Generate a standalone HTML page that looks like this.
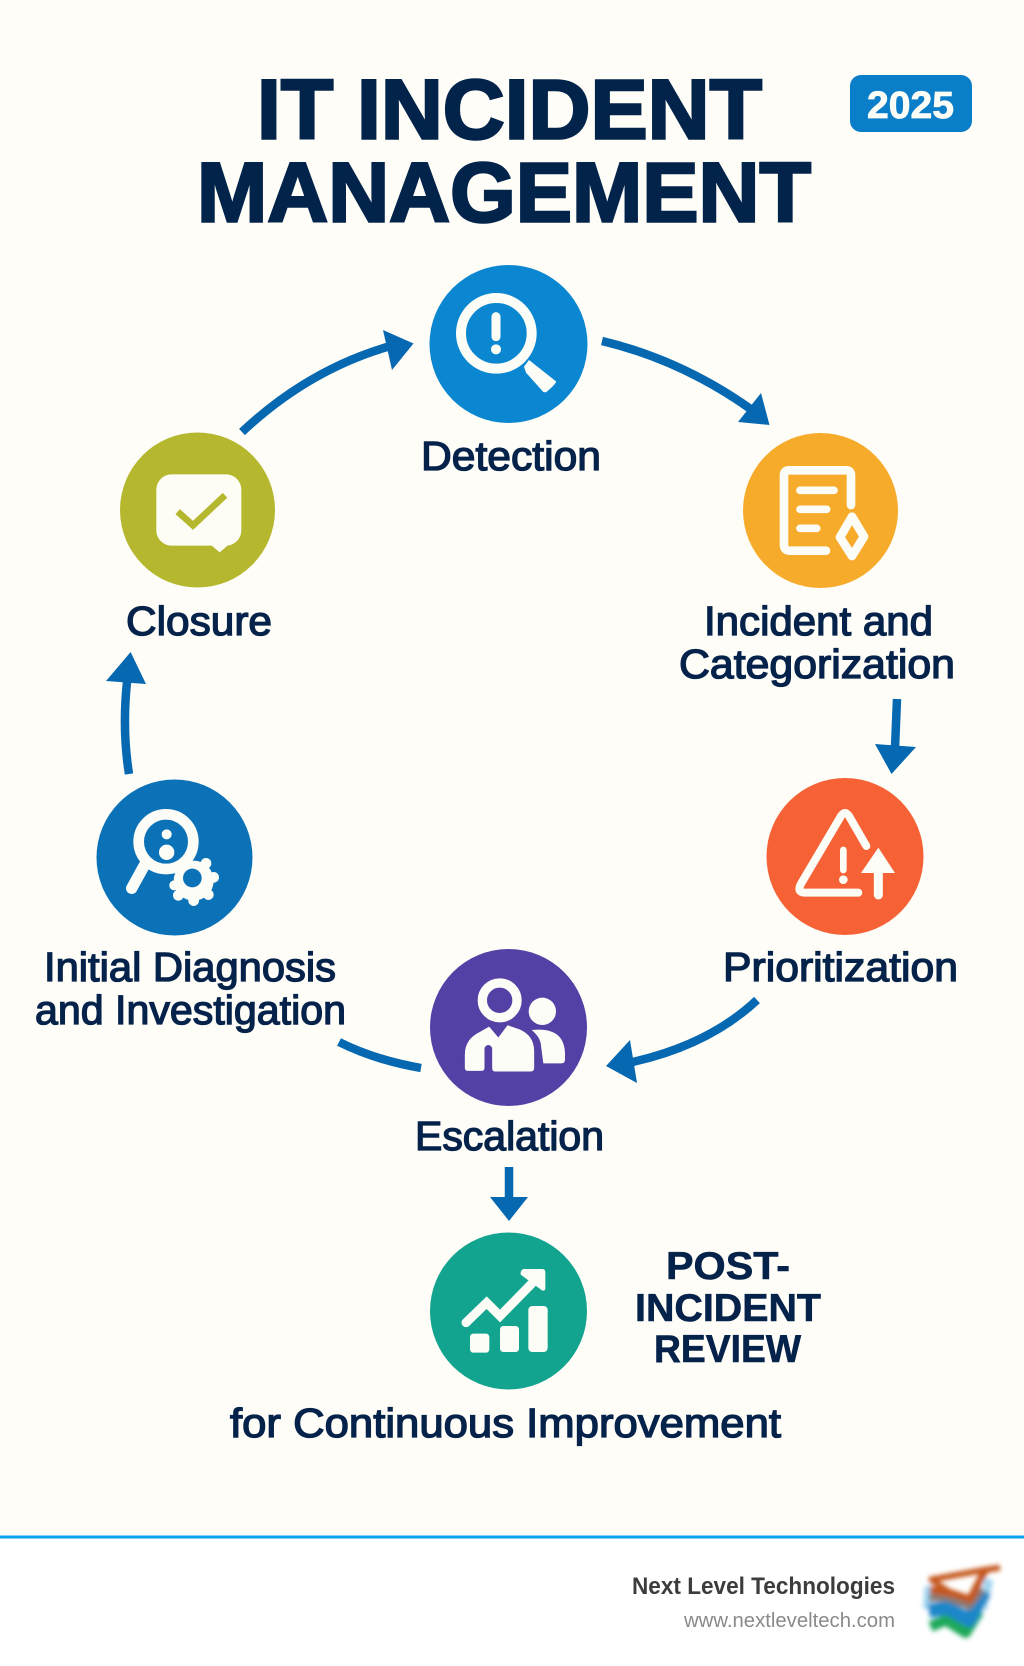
<!DOCTYPE html>
<html lang="en">
<head>
<meta charset="utf-8">
<title>IT Incident Management</title>
<style>
html,body{margin:0;padding:0;background:#fefdf8;}
svg{display:block;}
text{font-family:"Liberation Sans",Arial,sans-serif;}
.t{font-size:84px;font-weight:700;fill:#02234a;stroke:#02234a;stroke-width:2.6px;}
.l{font-size:41px;font-weight:400;fill:#05224a;stroke:#05224a;stroke-width:1.35px;}
.p{font-size:39px;font-weight:700;fill:#05224a;stroke:#05224a;stroke-width:.6px;}
.a{fill:none;stroke:#0668b0;stroke-width:8.5;}
.h{fill:#0668b0;}
</style>
</head>
<body>
<svg xmlns="http://www.w3.org/2000/svg" width="1024" height="1666" viewBox="0 0 1024 1666">
<defs><filter id="b" x="-20%" y="-20%" width="140%" height="140%"><feGaussianBlur stdDeviation="7"/></filter></defs>
<rect width="1024" height="1666" fill="#fefdf8"/>
<rect y="1539" width="1024" height="127" fill="#ffffff"/>
<rect y="1535.5" width="1024" height="3" fill="#0aa2f0"/>

<text class="t" x="257" y="138.5" textLength="505" lengthAdjust="spacingAndGlyphs">IT INCIDENT</text>
<text class="t" x="197" y="221.5" textLength="614" lengthAdjust="spacingAndGlyphs">MANAGEMENT</text>

<rect x="850" y="75" width="122" height="57" rx="11" fill="#0a7ec8"/>
<text x="867" y="118" font-size="38" font-weight="700" fill="#fdfdf8" stroke="#fdfdf8" stroke-width=".8" textLength="87" lengthAdjust="spacingAndGlyphs">2025</text>

<!-- connectors -->
<path class="a" d="M242 432 Q310 368 394 345"/>
<polygon class="h" points="413.5,343.5 383,330 392,370"/>
<path class="a" d="M602 341 Q682 360 752 410"/>
<polygon class="h" points="769.5,425 761,393 738,422"/>
<path class="a" d="M897 699 Q896 722 895 748"/>
<polygon class="h" points="891.5,774 875,744 916,747"/>
<path class="a" d="M757 1000 Q708 1046 628 1063"/>
<polygon class="h" points="606,1066 630,1040 637,1083"/>
<path class="a" d="M339 1042 Q375 1060 421 1068"/>
<path class="a" d="M129 774 Q122 730 127 682"/>
<polygon class="h" points="130.6,652 106,681 146,684"/>
<path class="a" d="M509 1167V1199"/>
<polygon class="h" points="509,1221 490,1197 528,1197"/>

<!-- Detection -->
<circle cx="508.5" cy="344" r="79" fill="#0a87d0"/>
<g transform="translate(430 264) scale(.33333)" fill="#fdfdf8" stroke-linecap="round">
<circle cx="199" cy="208" r="106" fill="none" stroke="#fdfdf8" stroke-width="30"/>
<path d="M198 158V218" stroke="#fdfdf8" stroke-width="27"/>
<circle cx="198" cy="256" r="15"/>
<path d="M297 288L378 352Q380 358 348 385L340 384L288 326L282 308Z"/>
</g>

<!-- Closure -->
<circle cx="197.5" cy="510" r="77.5" fill="#b5b82e"/>
<g transform="translate(118 430) scale(.33333)">
<rect x="115" y="133" width="255" height="214" rx="46" fill="#fdfdf6"/>
<polygon points="278,344 305,367 348,330" fill="#fdfdf6"/>
<polyline points="179,245 225,286 321,196" fill="none" stroke="#b5b82e" stroke-width="20"/>
</g>

<!-- Incident -->
<circle cx="820.5" cy="510.5" r="77.5" fill="#f7ab2b"/>
<g transform="translate(740 430) scale(.33333)" fill="none" stroke="#fdfdf8" stroke-linecap="round">
<path d="M333 225V135Q333 121 318 121H147Q132 121 132 136V345Q132 362 150 362H258" stroke-width="26"/>
<path d="M180 181H282M180 238H260M180 295H230" stroke-width="23"/>
<polygon points="336,260 372,320 336,378 300,322" stroke-width="26" stroke-linejoin="round"/>
</g>

<!-- Prioritization -->
<circle cx="845" cy="856.5" r="78.5" fill="#f66236"/>
<g transform="translate(765 776) scale(.33333)" fill="none" stroke="#fdfdf8" stroke-linecap="round">
<path d="M304 210L252 120Q240 102 228 120L107 325Q95 350 120 350H280" stroke-width="24" stroke-linejoin="round"/>
<path d="M235 222V282" stroke-width="20"/>
<circle cx="235" cy="311" r="13" fill="#fdfdf8" stroke="none"/>
<polygon points="340,215 390,291 288,291" fill="#fdfdf8" stroke="none"/>
<path d="M340 288V357" stroke-width="27"/>
</g>

<!-- Initial Diagnosis -->
<circle cx="174.5" cy="857.5" r="78" fill="#0c72b8"/>
<g transform="translate(95 778) scale(.33333)" fill="#fdfdf8" stroke-linecap="round">
<circle cx="213" cy="191" r="82" fill="none" stroke="#fdfdf8" stroke-width="32"/>
<circle cx="215" cy="169" r="15"/>
<circle cx="215" cy="223" r="23"/>
<path d="M148 262L110 331" stroke="#fdfdf8" stroke-width="34"/>
<circle cx="296" cy="308" r="60"/>
<circle cx="333" cy="256" r="16"/><circle cx="356" cy="298" r="16"/><circle cx="340" cy="350" r="16"/><circle cx="296" cy="368" r="16"/><circle cx="250" cy="352" r="16"/><circle cx="238" cy="322" r="15"/>
<circle cx="292" cy="300" r="28" fill="#0c72b8"/>
</g>

<!-- Escalation -->
<circle cx="508.5" cy="1027.5" r="78.5" fill="#5540a5"/>
<g transform="translate(430 948) scale(.33333)" fill="#fdfdf8">
<circle cx="209" cy="157" r="52" fill="none" stroke="#fdfdf8" stroke-width="28"/>
<circle cx="337" cy="190" r="41"/>
<path d="M305 246Q405 235 405 320V335Q405 346 394 346H340L332 285Q328 265 305 246Z"/>
<path stroke="#5540a5" stroke-width="3" d="M103 360V320Q103 272 150 250L178 234L205 266L232 230L270 243Q314 262 314 310V360Q314 372 302 372H195Q185 372 185 360V300Q175 285 165 300V360Q165 370 155 370H113Q103 370 103 360Z"/>
</g>

<!-- Post incident -->
<circle cx="508.5" cy="1311" r="78.5" fill="#12a48e"/>
<g transform="translate(430 1232) scale(.33333)" fill="#fdfdf8">
<polyline points="108,272 170,212 210,252 305,155" fill="none" stroke="#fdfdf8" stroke-width="27" stroke-linecap="round"/>
<path d="M280 111H336Q346 111 346 121V172Q340 180 332 172L272 128Q270 116 280 111Z"/>
<rect x="120" y="305" width="58" height="57" rx="10"/>
<rect x="210" y="282" width="57" height="78" rx="10"/>
<rect x="295" y="222" width="58" height="138" rx="12"/>
</g>

<!-- labels -->
<text class="l" x="421" y="470" textLength="180" lengthAdjust="spacingAndGlyphs">Detection</text>
<text class="l" x="126" y="635" textLength="146" lengthAdjust="spacingAndGlyphs">Closure</text>
<text class="l" x="704" y="635" textLength="229" lengthAdjust="spacingAndGlyphs">Incident and</text>
<text class="l" x="679" y="678" textLength="276" lengthAdjust="spacingAndGlyphs">Categorization</text>
<text class="l" x="723" y="981" textLength="235" lengthAdjust="spacingAndGlyphs">Prioritization</text>
<text class="l" x="44" y="981" textLength="292" lengthAdjust="spacingAndGlyphs">Initial Diagnosis</text>
<text class="l" x="35" y="1024" textLength="311" lengthAdjust="spacingAndGlyphs">and Investigation</text>
<text class="l" x="415" y="1150" textLength="189" lengthAdjust="spacingAndGlyphs">Escalation</text>
<text class="p" x="666" y="1279" textLength="124" lengthAdjust="spacingAndGlyphs">POST-</text>
<text class="p" x="635" y="1321" textLength="186" lengthAdjust="spacingAndGlyphs">INCIDENT</text>
<text class="p" x="654" y="1362" textLength="147" lengthAdjust="spacingAndGlyphs">REVIEW</text>
<text class="l" x="230" y="1437" textLength="551" lengthAdjust="spacingAndGlyphs">for Continuous Improvement</text>

<!-- footer -->
<text x="632" y="1594" font-size="24" font-weight="700" fill="#3c3c3c" textLength="263" lengthAdjust="spacingAndGlyphs">Next Level Technologies</text>
<text x="684" y="1627" font-size="20" fill="#8a8a8a" textLength="211" lengthAdjust="spacingAndGlyphs">www.nextleveltech.com</text>

<!-- logo -->
<g transform="translate(914 1556) scale(.33333)" fill="none" stroke-linejoin="round">
<g filter="url(#b)">
<path d="M45 90L40 160M225 70L205 160" stroke="#9fd4f0" stroke-width="26"/>
<polyline points="50,212 95,192 155,230 195,165" stroke="#1fa85a" stroke-width="32"/>
<polyline points="45,165 100,155 165,192 212,105" stroke="#1a87c9" stroke-width="42"/>
<polyline points="45,125 100,125 165,150 205,100" stroke="#8a7a70" stroke-width="22"/>
<polyline points="45,72 210,42 258,35" stroke="#c4571f" stroke-width="18"/>
<polyline points="48,100 115,112 168,130 216,38" stroke="#c4571f" stroke-width="22"/>
<path d="M50 70L115 112" stroke="#c4571f" stroke-width="16"/>
</g>
</g>
</svg>
</body>
</html>
